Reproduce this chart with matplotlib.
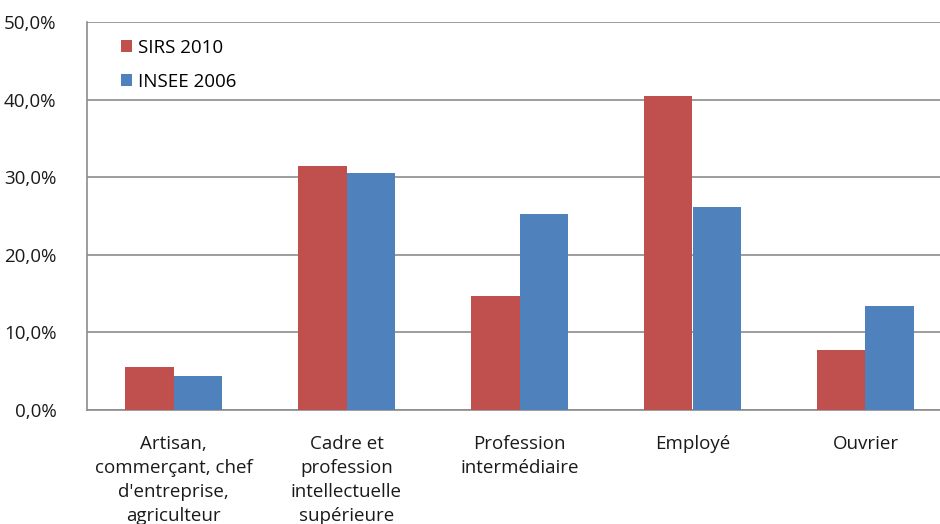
import numpy as np
import matplotlib.pyplot as plt
from matplotlib.ticker import FuncFormatter

plt.rcParams['font.family'] = ['Open Sans', 'DejaVu Sans']

categories = ["Artisan,\ncommerçant, chef\nd'entreprise,\nagriculteur",
              "Cadre et\nprofession\nintellectuelle\nsupérieure",
              "Profession\nintermédiaire",
              "Employé",
              "Ouvrier"]
sirs_2010 = [5.6, 31.4, 14.7, 40.4, 7.7]
insee_2006 = [4.4, 30.6, 25.2, 26.2, 13.4]

W, H = 940, 524
fig = plt.figure(figsize=(9.4, 5.24), dpi=100)
# plot area runs past the right edge of the picture (cropped in the original)
left, top, bottom, width = 87, 22, 410, 865
ax = fig.add_axes([left / W, 1 - bottom / H, width / W, (bottom - top) / H])

x = np.arange(len(categories))
bw = 0.283
ax.bar(x - bw / 2, sirs_2010, bw, color='#c0504d', label='SIRS 2010', zorder=3)
ax.bar(x + bw / 2, insee_2006, bw, color='#4f81bd', label='INSEE 2006', zorder=3)

ax.set_xlim(-0.5, len(categories) - 0.5)
ax.set_ylim(0, 50)
ax.set_yticks(np.arange(0, 51, 10))
ax.yaxis.set_major_formatter(FuncFormatter(lambda v, p: f"{v:.1f}%".replace('.', ',')))
ax.yaxis.grid(True, color='#8c8c8c', linewidth=1.2, zorder=0)
ax.set_axisbelow(True)

ax.set_xticks(x)
ax.set_xticklabels(categories, fontsize=13.5, linespacing=1.42, color='#1a1a1a')
ax.tick_params(axis='x', length=0, pad=18)
ax.tick_params(axis='y', length=0, pad=22, labelsize=13.5, labelcolor='#1a1a1a')

for s in ['top', 'right']:
    ax.spines[s].set_visible(False)
for s in ['left', 'bottom']:
    ax.spines[s].set_color('#8c8c8c')
    ax.spines[s].set_linewidth(1.2)

ax.legend(loc='upper left', bbox_to_anchor=(0.02, 1.0), frameon=False,
          fontsize=13.5, handlelength=0.6, handleheight=0.6, handletextpad=0.3,
          labelspacing=0.85)

fig.savefig('out.png', dpi=100)
